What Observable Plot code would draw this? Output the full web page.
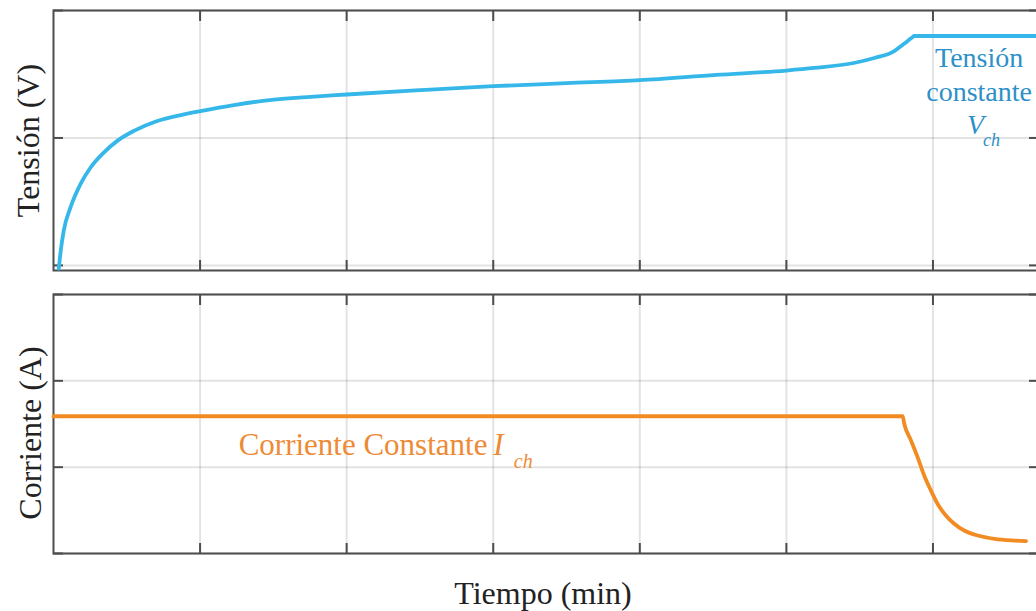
<!DOCTYPE html>
<html><head><meta charset="utf-8">
<script src="https://cdn.jsdelivr.net/npm/d3@7"></script>
<script src="https://cdn.jsdelivr.net/npm/@observablehq/plot@0.6"></script>
<style>
body{margin:0;background:#fff;}
#chart svg{display:block;}
</style></head><body><div id="chart"></div>
<script>
const vTime = [0.036,0.050,0.070,0.116,0.184,0.253,0.343,0.435,0.548,0.708,0.889,1.003,1.231,1.459,1.754,2.0,2.5,3.0,3.5,4.0,4.52,5.0,5.19,5.46,5.60,5.733,5.80,5.86,5.872,6.72];
const vValue = [-0.026,0.12,0.273,0.455,0.638,0.768,0.885,0.977,1.055,1.133,1.185,1.211,1.258,1.295,1.323,1.341,1.375,1.406,1.43,1.453,1.495,1.529,1.549,1.588,1.627,1.68,1.737,1.79,1.80,1.80];
const iTime = [0,5.793,5.804,5.85,5.895,5.94,5.986,6.031,6.088,6.145,6.213,6.305,6.419,6.555,6.635];
const iValue = [1.59,1.59,1.503,1.31,1.116,0.904,0.73,0.576,0.44,0.344,0.266,0.208,0.17,0.15,0.143];
const xTicks = [1,2,3,4,5,6];
const vTicks = [0,1,2];
const iTicks = [0,1,2,3];

const vData = vTime.map((t,i)=>({t, v:vValue[i]}));
const iData = iTime.map((t,i)=>({t, v:iValue[i]}));

const FONT = "'Liberation Serif','Times New Roman',serif";
const frameColor = "#4d4d4d";
const gridStyle = {stroke:"#000", strokeOpacity:0.11, strokeWidth:2};
const blue = "#35b7ea", blueText = "#2e90c8";
const orange = "#f28b22", orangeText = "#ee8a36";

function axes(yTicks){
  const blank = () => "";
  return [
    Plot.gridX(xTicks, gridStyle),
    Plot.gridY(yTicks, gridStyle),
    Plot.axisX(xTicks,{anchor:"bottom", tickSize:-10, tickFormat:blank, label:null, stroke:frameColor, strokeWidth:2}),
    Plot.axisX(xTicks,{anchor:"top", tickSize:-10, tickFormat:blank, label:null, stroke:frameColor, strokeWidth:2}),
    Plot.axisY(yTicks,{anchor:"left", tickSize:-10, tickFormat:blank, label:null, stroke:frameColor, strokeWidth:2}),
    Plot.axisY(yTicks,{anchor:"right", tickSize:-10, tickFormat:blank, label:null, stroke:frameColor, strokeWidth:2})
  ];
}

const topPlot = Plot.plot({
  width:1036, height:282, marginTop:10, marginBottom:12, marginLeft:53, marginRight:-2,
  style:{fontFamily:FONT, background:"#fff", overflow:"visible"},
  x:{domain:[0,6.72]},
  y:{domain:[-0.04,2]},
  marks:[
    ...axes(vTicks),
    Plot.frame({stroke:frameColor, strokeWidth:2}),
    Plot.line(vData,{x:"t", y:"v", stroke:blue, strokeWidth:3.8, strokeLinejoin:"round", curve:"monotone-x"}),
    Plot.text(["Tensión (V)"],{frameAnchor:"left", textAnchor:"middle", dx:-25, rotate:-90, fontSize:32, fill:"#222", fontFamily:FONT}),
    Plot.text(["Tensión"],{x:6.315, y:1.63, fontSize:28, fill:blueText, fontFamily:FONT}),
    Plot.text(["constante"],{x:6.315, y:1.36, fontSize:28, fill:blueText, fontFamily:FONT}),
    Plot.text(["V"],{x:6.29, y:1.10, fontSize:28, fill:blueText, fontStyle:"italic", fontFamily:FONT}),
    Plot.text(["ch"],{x:6.40, y:0.98, fontSize:18, fill:blueText, fontStyle:"italic", fontFamily:FONT})
  ]
});

const bottomPlot = Plot.plot({
  width:1036, height:329, marginTop:12, marginBottom:58, marginLeft:53, marginRight:-2,
  style:{fontFamily:FONT, background:"#fff", overflow:"visible"},
  x:{domain:[0,6.72]},
  y:{domain:[0,3]},
  marks:[
    ...axes(iTicks),
    Plot.frame({stroke:frameColor, strokeWidth:2}),
    Plot.line(iData,{x:"t", y:"v", stroke:orange, strokeWidth:3.8, strokeLinejoin:"round", curve:"monotone-x"}),
    Plot.text(["Corriente (A)"],{frameAnchor:"left", textAnchor:"middle", dx:-23, dy:9, rotate:-90, fontSize:32, fill:"#222", fontFamily:FONT}),
    Plot.text(["Corriente Constante"],{x:1.263, y:1.26, textAnchor:"start", fontSize:31, fill:orangeText, fontFamily:FONT}),
    Plot.text(["I"],{x:3.0, y:1.26, textAnchor:"start", fontSize:31, fill:orangeText, fontStyle:"italic", fontFamily:FONT}),
    Plot.text(["ch"],{x:3.14, y:1.07, textAnchor:"start", fontSize:20, fill:orangeText, fontStyle:"italic", fontFamily:FONT}),
    Plot.text(["Tiempo (min)"],{frameAnchor:"bottom", dy:50, dx:-3, fontSize:32, fill:"#222", fontFamily:FONT})
  ]
});

document.getElementById("chart").append(topPlot, bottomPlot);
</script></body></html>
